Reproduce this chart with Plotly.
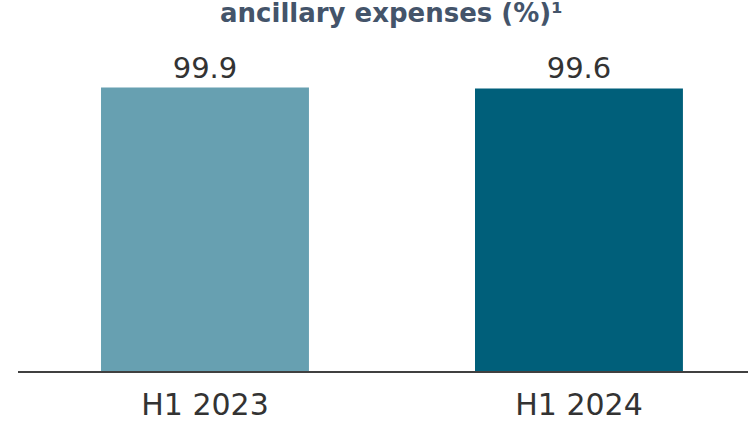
import plotly.graph_objects as go

categories = ["H1 2023", "H1 2024"]
values = [99.9, 99.6]
value_labels = ["99.9", "99.6"]
bar_colors = ["#67A0B1", "#005F7A"]
title_text = "ancillary expenses (%)¹"

fig = go.Figure()
fig.add_trace(go.Bar(
    x=[0, 1], y=values, width=0.556,
    marker=dict(color=bar_colors, line=dict(width=0)),
    text=value_labels, textposition="outside",
    textfont=dict(family="DejaVu Sans", size=29, color="#333333"),
    cliponaxis=False, hoverinfo="skip",
))

fig.update_layout(
    width=748, height=422,
    margin=dict(l=18, r=0, t=60, b=47),
    plot_bgcolor="white", paper_bgcolor="white",
    showlegend=False,
    xaxis=dict(
        range=[-0.5, 1.452], tickvals=[0, 1], ticktext=categories,
        showgrid=False, zeroline=False, showline=True,
        linecolor="#404040", linewidth=2, ticks="",
        tickfont=dict(family="DejaVu Sans", size=30, color="#333333"),
        ticklabelstandoff=6,
        fixedrange=True,
    ),
    yaxis=dict(range=[0, 109.6], visible=False, fixedrange=True),
    annotations=[dict(
        text="<b>" + title_text + "</b>", xref="paper", yref="paper",
        x=0.511, y=1.150, xanchor="center", yanchor="middle", showarrow=False,
        font=dict(family="DejaVu Sans", size=26, color="#44546A"),
    )],
)

fig.write_html("out.html", config={"displayModeBar": False},
               post_script="document.body.style.margin='0';document.body.style.overflow='hidden';")
